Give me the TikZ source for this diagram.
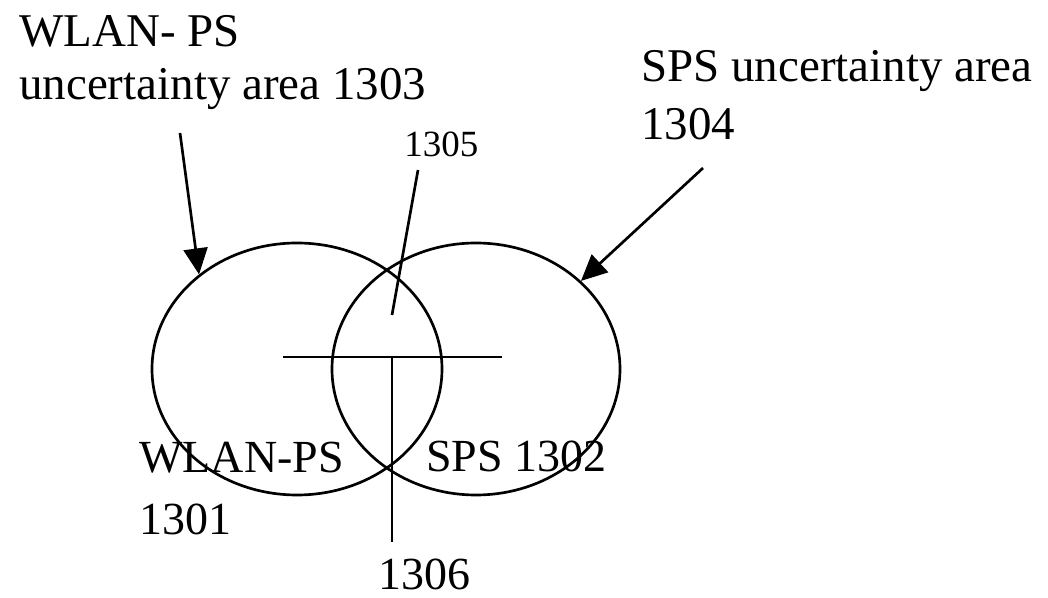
\documentclass[tikz,border=0pt]{standalone}
\usepackage{fontspec}
\setmainfont{Liberation Serif}
\usetikzlibrary{arrows.meta,shapes.geometric}

\begin{document}
\begin{tikzpicture}[line width=1.9pt,
		area/.style={ellipse,draw,minimum height=6.3cm,inner sep=0pt},
		lbl/.style={anchor=base west,inner sep=0pt,align=left},
		arr/.style={-{Triangle[length=6.5mm,width=6mm]}}]
		\useasboundingbox (0,0) rectangle (26.2,14.95);

		% the two uncertainty areas
		\node[area,minimum width=7.25cm] (wlanps) at (7.425,5.725) {};
		\node[area,minimum width=7.2cm] (sps) at (11.9,5.725) {};

		% position marks
		\coordinate (crossl) at (7.075,6.025);
		\coordinate (crossr) at (12.55,6.025);
		\coordinate (crossm) at (9.8,6.025);
		\coordinate (crossb) at (9.8,1.4);
		\draw (crossl) -- (crossr);
		\draw (crossm) -- (crossb);

		% labels (base = last line)
		\node[lbl,font=\fontsize{33.4}{37.7}\selectfont] (wlanarea) at (0.45,12.45) {WLAN- PS\\uncertainty area 1303};
		\node[lbl,font=\fontsize{33.4}{41.3}\selectfont] (spsarea) at (16.0,11.45) {SPS uncertainty area\\1304};
		\node[lbl,font=\fontsize{26.3}{30}\selectfont] (overlap) at (10.075,11.025) {1305};
		\node[lbl,font=\fontsize{32.7}{44.8}\selectfont] (wlanpos) at (3.45,1.575) {WLAN-PS\\1301};
		\node[lbl,font=\fontsize{32.7}{44.8}\selectfont] (spspos) at (10.625,3.15) {SPS 1302};
		\node[lbl,font=\fontsize{32.7}{44.8}\selectfont] (final) at (9.425,0.2) {1306};

		% leaders
		\coordinate (wlanfrom) at (4.5,11.625);
		\coordinate (spsfrom) at (17.575,10.75);
		\coordinate (ovtop) at (10.45,10.7);
		\coordinate (ovbot) at (9.8,7.075);
		\draw[arr] (wlanfrom) -- (wlanps.136);
		\draw[arr] (spsfrom) -- (sps.40);
		\draw (ovtop) -- (ovbot);
	\end{tikzpicture}
\end{document}
